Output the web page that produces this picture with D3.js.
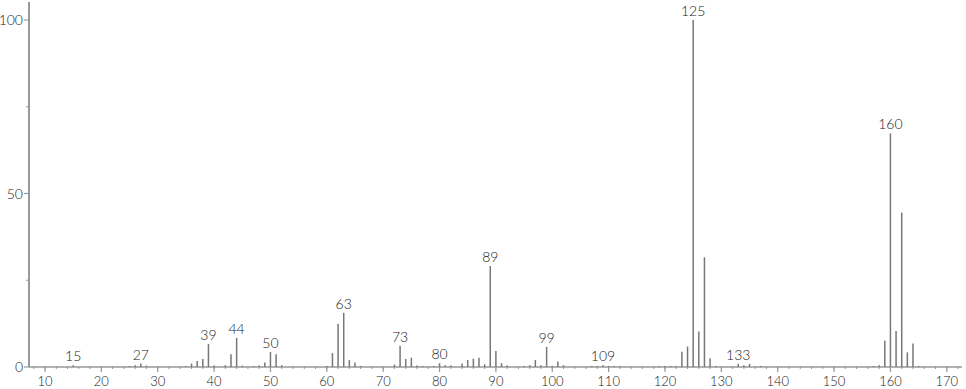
<!DOCTYPE html>
<html>
<head>
<meta charset="utf-8">
<script src="https://cdn.jsdelivr.net/npm/d3@7"></script>
<style>
  body { margin: 0; background: #fff; }
  svg text { font-family: Lato, 'Open Sans', 'DejaVu Sans', sans-serif; font-weight: 300; fill: #222; }
</style>
</head>
<body>
<svg id="chart" width="966" height="389"></svg>
<script>
const width = 966;
const height = 389;

// m/z and relative intensity
const mz = [15, 25, 26, 27, 28, 35, 36, 37, 38, 39, 40, 42, 43, 44, 45, 47, 48, 49, 50, 51, 52,
    60, 61, 62, 63, 64, 65, 66, 72, 73, 74, 75, 76, 77, 79, 80, 81, 82, 84, 85, 86, 87, 88, 89, 90, 91, 92,
    95, 96, 97, 98, 99, 100, 101, 102, 107, 108, 109, 110, 111, 112,
    119, 120, 121, 122, 123, 124, 125, 126, 127, 128, 129, 133, 134, 135, 137,
    157, 158, 159, 160, 161, 162, 163, 164, 165];
const intensity = [0.5, 0.3, 0.5, 1.0, 0.4, 0.3, 1.0, 1.7, 2.3, 6.6, 0.4, 0.5, 3.7, 8.4, 0.4, 0.3, 0.4, 1.3, 4.3, 3.7, 0.5,
    0.3, 4.0, 12.5, 15.6, 2.0, 1.3, 0.3, 0.7, 6.1, 2.3, 2.7, 0.4, 0.3, 0.3, 1.1, 0.5, 0.4, 1.0, 2.0, 2.4, 2.7, 0.8, 29.1, 4.6, 1.1, 0.4,
    0.3, 0.5, 2.0, 0.5, 5.8, 0.3, 1.6, 0.5, 0.3, 0.3, 0.5, 0.3, 0.3, 0.3,
    0.3, 0.3, 0.3, 0.3, 4.4, 5.9, 100, 10.2, 31.6, 2.5, 0.3, 0.9, 0.5, 0.9, 0.3,
    0.3, 0.5, 7.6, 67.3, 10.4, 44.5, 4.2, 6.8, 0.3];
const labelled = [15, 27, 39, 44, 50, 63, 73, 80, 89, 99, 109, 125, 133, 160];

const xTicks = d3.range(10, 171, 10);
const xMinor = d3.range(8, 173, 2);
const yTicks = [0, 50, 100];
const yMinor = [25, 75];

const x = d3.scaleLinear().domain([10, 170]).range([45, 946.8]);
const y = d3.scaleLinear().domain([0, 100]).range([367, 20]);

const svg = d3.select('#chart');
const peaks = mz.map((m, i) => ({ mz: m, v: intensity[i] }));

// axes
svg.append('line')
    .attr('x1', 29).attr('x2', 29).attr('y1', 2).attr('y2', y(0))
    .attr('stroke', '#999').attr('stroke-width', 2);
svg.append('line')
    .attr('x1', 29).attr('x2', 962).attr('y1', y(0)).attr('y2', y(0))
    .attr('stroke', '#999').attr('stroke-width', 1.5);

svg.selectAll('.xminor').data(xMinor).join('line')
    .attr('x1', d => x(d)).attr('x2', d => x(d))
    .attr('y1', y(0) - 1).attr('y2', y(0) + 2)
    .attr('stroke', '#999').attr('stroke-width', 1);
svg.selectAll('.xmajor').data(xTicks).join('line')
    .attr('x1', d => x(d)).attr('x2', d => x(d))
    .attr('y1', y(0)).attr('y2', y(0) + 5)
    .attr('stroke', '#999').attr('stroke-width', 1.2);
svg.selectAll('.xlab').data(xTicks).join('text')
    .attr('x', d => x(d)).attr('y', 386)
    .attr('text-anchor', 'middle').attr('font-size', 13)
    .text(d => d);

svg.selectAll('.ymajor').data(yTicks).join('line')
    .attr('x1', 24).attr('x2', 29).attr('y1', d => y(d)).attr('y2', d => y(d))
    .attr('stroke', '#999').attr('stroke-width', 1.2);
svg.selectAll('.yminor').data(yMinor).join('line')
    .attr('x1', 26).attr('x2', 29).attr('y1', d => y(d)).attr('y2', d => y(d))
    .attr('stroke', '#999').attr('stroke-width', 1);
svg.selectAll('.ylab').data(yTicks).join('text')
    .attr('x', 23).attr('y', d => y(d) + 5)
    .attr('text-anchor', 'end').attr('font-size', 14)
    .text(d => d);

// peaks
svg.selectAll('.peak').data(peaks).join('line')
    .attr('x1', d => x(d.mz)).attr('x2', d => x(d.mz))
    .attr('y1', y(0)).attr('y2', d => y(d.v))
    .attr('stroke', '#777').attr('stroke-width', 1.5);

svg.selectAll('.plab').data(peaks.filter(d => labelled.includes(d.mz))).join('text')
    .attr('x', d => x(d.mz)).attr('y', d => y(d.v) - 4)
    .attr('text-anchor', 'middle').attr('font-size', 14)
    .text(d => d.mz);
</script>
</body>
</html>
